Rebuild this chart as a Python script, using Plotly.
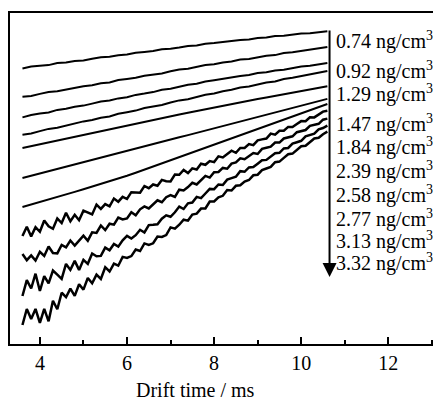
import plotly.graph_objects as go

# drift time grids (ms)
t_coarse = [3.6, 3.8, 4.0, 4.2, 4.4, 4.6, 4.8, 5.0, 5.2, 5.4, 5.6, 5.8,
            6.0, 6.2, 6.4, 6.6, 6.8, 7.0, 7.2, 7.4, 7.6, 7.8, 8.0, 8.2,
            8.4, 8.6, 8.8, 9.0, 9.2, 9.4, 9.6, 9.8, 10.0, 10.2, 10.4, 10.6]
t_fine = [3.6, 3.7, 3.8, 3.9, 4.0, 4.1, 4.2, 4.3, 4.4, 4.5, 4.6, 4.7,
          4.8, 4.9, 5.0, 5.1, 5.2, 5.3, 5.4, 5.5, 5.6, 5.7, 5.8, 5.9,
          6.0, 6.1, 6.2, 6.3, 6.4, 6.5, 6.6, 6.7, 6.8, 6.9, 7.0, 7.1,
          7.2, 7.3, 7.4, 7.5, 7.6, 7.7, 7.8, 7.9, 8.0, 8.1, 8.2, 8.3,
          8.4, 8.5, 8.6, 8.7, 8.8, 8.9, 9.0, 9.1, 9.2, 9.3, 9.4, 9.5,
          9.6, 9.7, 9.8, 9.9, 10.0, 10.1, 10.2, 10.3, 10.4, 10.5, 10.6]

# stacked spectra (offset signal, larger value = lower on the page)
s1 = [68.4, 66.6, 65.7, 65.1, 63.0, 62.5, 60.9, 60.4, 58.8, 57.3, 56.8, 55.3,
      54.6, 52.8, 52.0, 51.1, 49.2, 48.7, 47.4, 45.9, 45.5, 43.7, 42.9, 41.9,
      40.5, 39.9, 39.4, 38.0, 37.5, 36.1, 35.8, 34.7, 33.5, 33.2, 31.9, 31.2]
s2 = [96.7, 95.9, 93.9, 92.1, 91.3, 89.5, 88.4, 86.2, 85.2, 83.3, 82.4, 80.1,
      79.0, 77.8, 75.7, 74.7, 73.4, 71.3, 69.5, 68.7, 66.9, 65.1, 64.3, 62.4,
      61.4, 59.5, 58.9, 57.3, 55.8, 55.1, 53.1, 52.2, 51.0, 49.2, 48.5, 46.9]
s3 = [117.4, 115.0, 113.6, 112.5, 109.9, 108.8, 106.7, 105.6, 103.6, 101.5, 100.5, 98.4,
      97.3, 94.9, 93.6, 92.1, 89.7, 88.7, 86.8, 84.8, 83.8, 81.5, 80.2, 78.8,
      76.9, 75.9, 75.0, 73.1, 72.2, 70.4, 69.7, 68.1, 66.5, 65.8, 64.1, 62.9]
s4 = [134.7, 133.5, 131.1, 128.9, 127.7, 125.5, 124.0, 121.4, 120.0, 117.7, 116.4, 113.7,
      112.2, 110.6, 108.1, 106.7, 105.0, 102.5, 100.4, 99.2, 97.0, 94.8, 93.5, 91.2,
      89.8, 87.5, 86.5, 84.5, 82.6, 81.5, 79.1, 77.8, 76.2, 74.0, 72.9, 70.9]
s5 = [148.0, 146.1, 144.2, 142.3, 140.4, 138.5, 136.6, 134.7, 132.8, 130.9, 129.0, 127.1,
      125.3, 123.5, 121.7, 119.9, 118.1, 116.3, 114.5, 112.7, 110.9, 109.1, 107.3, 105.6,
      103.9, 102.2, 100.6, 99.0, 97.4, 95.8, 94.2, 92.6, 91.0, 89.4, 87.8, 86.2]
s6 = [178.0, 175.7, 173.5, 171.2, 169.0, 166.7, 164.4, 162.2, 159.9, 157.7, 155.4, 153.1,
      150.9, 148.6, 146.4, 144.1, 141.8, 139.6, 137.3, 135.1, 132.8, 130.5, 128.3, 126.0,
      123.8, 121.5, 119.2, 117.0, 114.7, 112.5, 110.2, 107.9, 105.7, 103.4, 101.2, 98.9]
s7 = [207.0, 204.6, 202.2, 199.8, 197.1, 194.5, 191.9, 189.3, 186.7, 184.1, 181.5, 178.7,
      175.8, 172.8, 169.7, 166.6, 163.5, 160.4, 157.3, 154.2, 151.0, 147.9, 144.8, 141.6,
      138.5, 135.4, 132.3, 129.2, 126.0, 122.9, 119.8, 116.6, 113.5, 110.3, 107.1, 104.0]
s8 = [236, 226.7, 236.4, 227.1, 231.8, 220.5, 226.2, 228.8, 218.5, 223.1, 212.8,
      221.3, 214.8, 220.2, 210.7, 212.2, 214.4, 204.6, 208.9, 204.1, 206.3,
      198.5, 201.7, 196.8, 199.0, 192.2, 192.5, 192.7, 186.0, 188.2, 184.5,
      185.7, 179.9, 181.2, 181.4, 174.6, 174.8, 170.0, 173.1, 168.3, 169.5,
      163.7, 164.8, 161.0, 162.1, 156.3, 157.4, 154.5, 150.7, 152.8, 147.9,
      148.0, 144.1, 145.2, 140.3, 139.4, 138.5, 133.6, 134.6, 130.7, 130.8,
      126.9, 127.0, 124.0, 121.1, 121.2, 117.3, 117.4, 114.5, 111.6, 110.7]
s9 = [254, 260.2, 255.4, 260.6, 251.8, 256.0, 246.5, 253.0, 253.4, 244.9, 247.4,
      240.5, 245.5, 240.6, 235.6, 240.7, 232.3, 232.9, 225.5, 230.1, 223.7,
      224.6, 217.5, 219.5, 218.4, 212.3, 215.3, 209.3, 206.4, 208.4, 204.4,
      200.3, 202.2, 197.2, 195.1, 197.0, 189.7, 190.4, 187.1, 182.8, 184.5,
      180.2, 175.9, 177.6, 172.3, 172.0, 167.9, 168.7, 163.6, 162.4, 158.3,
      159.2, 156.1, 153.1, 154.0, 148.9, 147.8, 146.7, 142.6, 142.6, 138.5,
      137.4, 136.3, 132.2, 131.1, 130.0, 125.9, 124.8, 123.8, 119.7, 118.6]
s10 = [296, 280.2, 288.5, 273.7, 291.0, 276.2, 283.3, 270.5, 274.6, 278.8, 263.9,
       269.9, 260.9, 269.9, 259.8, 263.8, 253.5, 256.2, 255.9, 247.6, 250.3,
       244.0, 246.6, 240.3, 235.9, 238.6, 235.2, 229.8, 232.5, 225.1, 224.7,
       224.2, 218.7, 215.3, 216.8, 212.3, 206.6, 209.0, 203.3, 202.6, 196.9,
       198.2, 193.5, 188.9, 189.2, 184.5, 185.0, 179.6, 178.1, 176.7, 171.2,
       171.8, 167.4, 167.1, 163.7, 160.3, 159.9, 156.5, 153.2, 152.8, 148.4,
       148.0, 143.6, 142.2, 140.8, 136.4, 135.0, 133.7, 129.3, 128.0, 125.6]
s11 = [325, 309.0, 318.9, 308.9, 322.8, 308.8, 321.3, 300.8, 309.2, 292.7, 297.2,
       288.6, 295.9, 284.3, 289.6, 278.0, 283.3, 274.6, 278.9, 267.2, 271.5,
       263.6, 265.7, 256.9, 258.0, 256.1, 249.5, 251.0, 243.4, 244.9, 243.3,
       236.6, 236.9, 235.1, 227.4, 228.7, 224.7, 219.7, 220.6, 214.6, 213.6,
       208.6, 208.5, 201.5, 201.4, 197.4, 195.8, 190.1, 190.5, 185.8, 185.2,
       181.6, 180.0, 175.3, 174.7, 170.1, 168.5, 166.9, 162.2, 161.6, 157.9,
       154.3, 153.6, 150.0, 146.3, 145.7, 142.1, 138.5, 137.8, 134.2, 131.6]

concentrations = ['0.74', '0.92', '1.29', '1.47', '1.84',
                  '2.39', '2.58', '2.77', '3.13', '3.32']

SERIF = 'Liberation Serif'
label_y = [40, 70, 93, 123, 146, 170, 194, 218, 240, 262]

fig = go.Figure()
for s in [s1, s2, s3, s4, s5, s6, s7]:
    fig.add_trace(go.Scatter(x=t_coarse, y=s, mode='lines',
                             line=dict(color='black', width=2), showlegend=False))
for s in [s8, s9, s10, s11]:
    fig.add_trace(go.Scatter(x=t_fine, y=s, mode='lines',
                             line=dict(color='black', width=2.5), showlegend=False))

# downward arrow beside the traces
fig.add_annotation(x=10.65, y=277, ax=10.65, ay=29, xref='x', yref='y',
                   axref='x', ayref='y', text='', showarrow=True,
                   arrowhead=2, arrowsize=1.4, arrowwidth=2, arrowcolor='black')

for c, yy in zip(concentrations, label_y):
    fig.add_annotation(x=10.76, y=yy, xref='x', yref='y', xanchor='left',
                       yanchor='middle', showarrow=False,
                       text=c + ' ng/cm<sup>3</sup>',
                       font=dict(family=SERIF, size=20, color='black'))

# x axis title sits a little left of centre in the original
fig.add_annotation(x=0.4326, y=0, xref='paper', yref='paper', yshift=-46,
                   xanchor='center', yanchor='middle', showarrow=False,
                   text='Drift time / ms',
                   font=dict(family=SERIF, size=20, color='black'))

# page body adds an 8px margin, so the figure is sized to fit inside it
fig.update_layout(
    width=433, height=401,
    margin=dict(l=2, r=1, t=5, b=65),
    paper_bgcolor='white', plot_bgcolor='white',
    font=dict(family=SERIF, size=20, color='black'),
    xaxis=dict(range=[3.314, 13.14], tick0=4, dtick=2,
               ticks='inside', ticklen=7, tickwidth=2, tickcolor='black',
               minor=dict(dtick=1, ticks='inside', ticklen=4, tickwidth=2,
                          tickcolor='black'),
               showline=True, linewidth=2, linecolor='black', mirror=True,
               showgrid=False, zeroline=False),
    yaxis=dict(range=[344, 13], showticklabels=False, ticks='',
               showline=True, linewidth=2, linecolor='black', mirror=True,
               showgrid=False, zeroline=False),
)

fig.write_html("out.html")
